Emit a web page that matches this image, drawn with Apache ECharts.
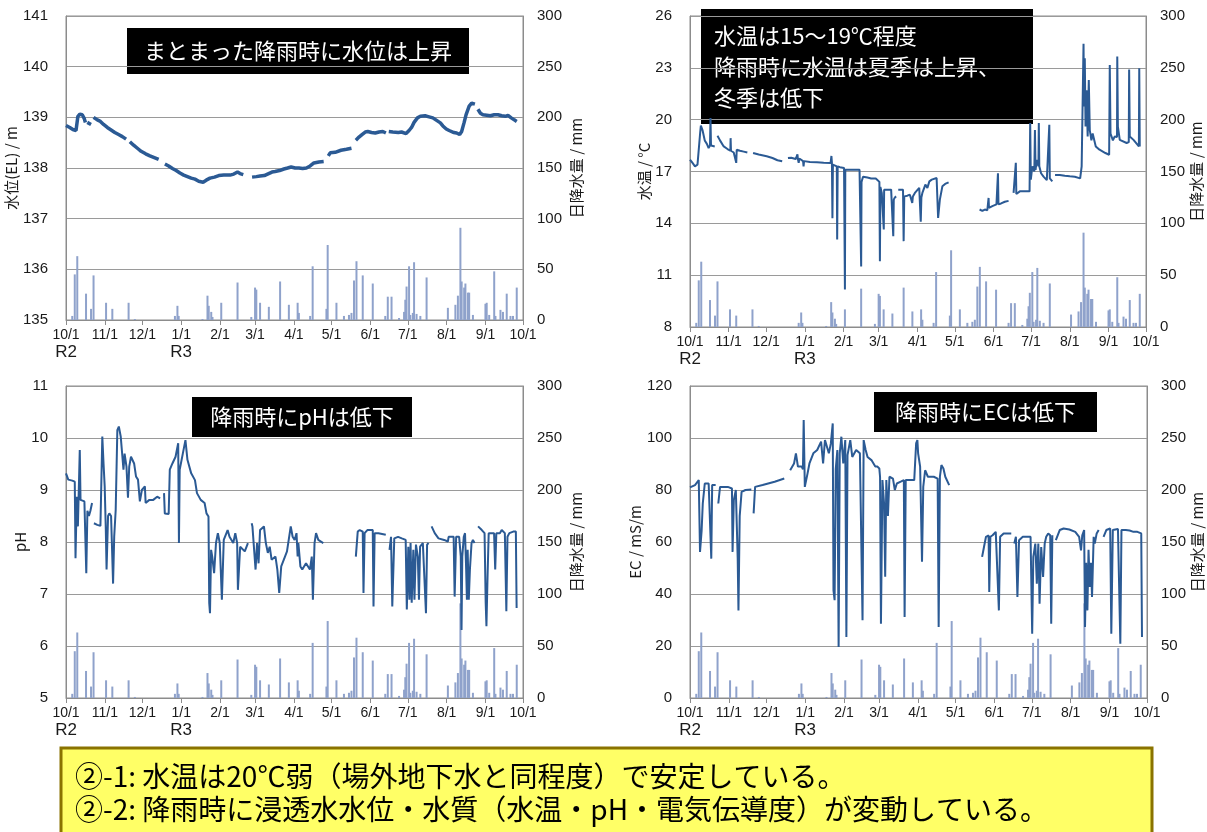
<!DOCTYPE html>
<html>
<head>
<meta charset="utf-8">
<script src="https://cdn.jsdelivr.net/npm/echarts@6/dist/echarts.min.js"></script>
<style>
html,body{margin:0;padding:0;background:#fff;}
#c{width:1207px;height:832px;}
</style>
</head>
<body>
<div id="c"></div>
<script>
// Day offsets are counted from 10/1 (R2). Month starts on the time axis:
const monthDays   = [0, 31, 61, 92, 123, 151, 182, 212, 243, 273, 304, 335, 365];
const monthLabels = ['10/1','11/1','12/1','1/1','2/1','3/1','4/1','5/1','6/1','7/1','8/1','9/1','10/1'];
const eraLabels   = {0: 'R2', 92: 'R3'};

// Daily rainfall [day, mm]
const rainfall = [
  [5,4],[7,45],[9,63],[16,26],[20,11],[22,44],[32,17],[37,11],[50,17],[55,1],
  [87,4],[89,14],[90,4],[109,1],[113,24],[114,14],[116,8],[117,3],[124,17],[137,37],
  [148,3],[151,32],[152,30],[155,17],[162,13],[171,38],[178,15],[185,17],[186,7],[195,4],
  [197,53],[208,11],[209,74],[216,17],[222,4],[226,5],[228,7],[230,39],[232,58],[237,44],
  [245,36],[255,4],[257,23],[260,23],[266,2],[270,8],[271,20],[272,33],[274,53],[275,5],
  [277,7],[278,57],[280,6],[283,4],[288,42],[305,12],[311,15],[313,24],[315,91],[316,38],
  [318,32],[319,36],[321,27],[322,27],[325,5],[335,16],[336,17],[338,5],[342,48],[343,4],
  [347,10],[349,8],[352,26],[355,4],[357,4],[360,32]
];

// Seepage water level (EL, m), one array per continuous record
const waterLevel = [
  [[0,138.84],[3,138.8],[5.5,138.76],[8,138.74],[9.5,139.02],[11,139.06],[13,139.05],[14.5,138.98],[15.5,138.9]],
  [[17,138.9],[20,138.86]],
  [[22,139.0],[25,138.95],[27.5,138.92],[30,138.86],[33,138.8],[36,138.75],[39,138.7],[42,138.66],[45,138.62],[48,138.57]],
  [[51,138.52],[54,138.45],[57.5,138.38],[60,138.33],[63.6,138.28],[67,138.24],[70,138.21],[74,138.17]],
  [[79,138.08],[82,138.04],[85,137.99],[88,137.95],[91,137.9],[94,137.86],[97,137.83],[100,137.8],[103,137.78],[106,137.74],[109.5,137.72],[112,137.76],[115,137.8],[118.6,137.82],[122,137.85],[126,137.86],[131,137.86],[134,137.88],[137,137.92],[139,137.89],[141.6,137.87]],
  [[148.6,137.82],[152,137.83],[155,137.84],[158.4,137.85],[161,137.88],[164.5,137.92],[167,137.93],[170.6,137.95],[174,137.98],[177,138.0],[179.8,138.02],[183,138.0],[186,138.0],[189,137.99],[192,138.0],[195,138.04],[198,138.1],[202,138.12],[205.8,138.13]],
  [[209.5,138.24],[211,138.3],[215,138.31],[219.6,138.35],[224,138.37],[228,138.39]],
  [[231.5,138.55],[234,138.61],[236.4,138.66],[239,138.71],[241,138.72],[244,138.7],[247,138.69],[250,138.71],[253,138.72],[255.5,138.69]],
  [[257.8,138.72],[261,138.71],[265.4,138.7],[268,138.71],[271.6,138.68],[274,138.74],[276,138.8],[278,138.9],[280.7,138.99],[283,139.02],[286.8,139.03],[290,139.01],[293,138.99],[296,138.94],[299,138.89],[301,138.83],[303.7,138.77],[306,138.74],[309.8,138.7],[312,138.69],[314.4,138.66],[316,138.72],[318,138.9],[319.5,139.05],[322,139.22],[324,139.28],[326.6,139.26]],
  [[329,139.16],[331,139.08],[333,139.05],[336,139.04],[339,139.03],[342,139.05],[345,139.05],[348,139.03],[351,139.02],[353,139.04],[355.6,138.99],[358,138.95],[360,138.92]]
];

// Water temperature (°C)
const waterTemp = [
  [[0,17.68],[2,17.5],[4,17.3],[6,17.4],[7,17.5],[8.2,19.3],[8.7,19.65],[10,19.4],[11.8,18.8],[13.5,18.6],[14.9,18.36],[16,18.5],[16.4,20.1],[16.8,18.5],[18,18.5],[19.8,18.45]],
  [[22,19.07],[24,18.8],[27,18.45],[30,18.3],[32.3,18.2],[32.5,18.93],[32.8,18.2],[35,18.1],[36.6,18.07],[37,17.5],[37.4,18.26],[40,18.2],[43,18.15],[45.9,18.1]],
  [[50.5,18.07],[55,17.98],[61.4,17.88],[66,17.78],[70,17.65],[73.8,17.59]],
  [[78.4,17.78],[81,17.8],[84.6,17.72],[85.6,17.72],[86,18.0],[86.4,17.7],[87,17.5],[87.5,17.75],[90.5,17.6],[90.9,17.3],[91.3,17.6],[96,17.55],[101.6,17.53],[107,17.5],[112.5,17.49],
   [113.2,17.9],[113.6,17.5],[114,14.3],[114.4,17.4],[116,17.3],[117.5,17.3],[117.8,13.06],[118.2,17.3],[120,17.25],[123.3,17.2],[123.8,17.2],[124,10.17],[124.3,17.1],[127,17.1],[131,17.1],[135.7,17.1],[136.8,17.1],[137,11.5],[137.3,16.4],[138.5,16.7],[142,16.65],[145,16.6],
   [148.7,16.6],[150,16.5],[151.6,16.4],[152,11.8],[152.4,16.1],[153.5,15.76],[154.8,15.8],[155.1,13.64],[155.4,15.95],[158,15.95],[161,15.95],[162.4,15.95],[162.7,13.25],[163.1,15.37],[164,15.5],[165,15.56]],
  [[166.7,15.95],[168,15.9],[170.5,15.95],[171,12.97],[171.5,15.56],[174,15.6],[176,15.66],[177.6,15.6],[177.9,15.18],[178.4,15.56],[180,15.76],[183.5,16.05],[183.8,16.05],[184.7,14.1],[185.2,15.5],[186,15.76],[188.4,16.24],[190,16.05],[191.6,16.43],[193.5,16.53],[197.4,16.62],[197.7,16.6],[198.6,14.31],[200,15.37],[202,16.14],[204.2,16.28],[207,16.37]],
  [[231.8,14.8],[234,14.72],[236,14.8],[238,14.76],[238.8,14.8],[239,15.47],[239.3,14.9],[242,15.0],[245.3,15.1],[245.7,15.1],[246.5,16.9],[246.9,15.1],[249,15.15],[252,15.25],[255,15.3]],
  [[259,15.76],[260.5,15.8],[260.8,17.5],[261.2,15.7],[264,15.85],[268,15.85],[271.8,15.85],[272.3,19.8],[272.8,16.53],[274,17.3],[275.6,17.0],[276.1,19.4],[276.6,17.1],[277.6,17.68],[278.9,17.3],[279.2,19.8],[279.6,17.3],[281,16.9],[283,16.7],[285.6,16.5],[287.2,16.5],[287.6,19.7],[288,16.6],[290,16.43]],
  [[292.2,16.8],[296,16.8],[300,16.75],[304,16.72],[308,16.7],[312.3,16.6],[313.5,17.3],[314.6,17.3],[315,24.4],[315.4,20.76],[316,23.55],[316.6,19.6],[317.4,21.7],[318.3,19.03],[319.2,22.3],[320,19.4],[321.3,18.8],[322.3,19.2],[324.8,18.45],[327.8,18.26],[332.5,18.07],[335.5,17.97],[336,23.17],[336.6,19.2],[338.5,18.8],[340,19.03],[341.8,19.0],[342,23.65],[342.5,19.6],[344,18.83],[349.5,18.65],[351.2,18.7],[351.5,22.9],[352,19.03],[355,18.83],[359.3,18.45],[359.6,22.98],[360,18.45]]
];

// pH
const phValues = [
  [[0,9.32],[1.8,9.2],[5,9.18],[7,9.16],[7.6,7.69],[8.2,8.4],[8.6,8.87],[9.5,8.3],[10.1,8.9],[11,9.77],[11.6,8.81],[13,8.8],[14.7,8.78],[16.2,7.4],[17.1,8.6],[18.3,8.5],[19.5,8.6],[20.8,8.75]],
  [[22.3,8.36],[25,8.33],[27.5,8.31],[29,10.03],[30,9.5],[30.9,9.07],[31.8,8.23],[32.4,7.47],[33.6,8.5],[34.6,8.55],[36,8.5],[37.6,7.2],[38.5,8.1],[39.7,8.62],[41,10.15],[42.2,10.22],[43.7,10.03],[44.6,9.77],[45.9,9.39],[46.8,9.7],[48.3,9.45],[49.5,8.85],[50.5,9.45],[51.9,9.64],[54.4,9.51],[55.9,9.26],[57.5,9.2],[59,8.78],[60.6,9.0],[63,9.07],[63.6,8.75],[66.6,8.81],[69.7,8.81],[72.8,8.87],[75.2,8.84]],
  [[78.3,8.94],[78.9,8.55],[82,8.54],[82.9,9.39],[85,9.51],[87.5,9.64],[89.6,9.9],[90.2,7.98],[90.8,9.39],[93.3,9.7],[95.4,9.96],[97,9.58],[100,9.32],[103,9.19],[104.6,8.94],[107.6,8.81],[110.7,8.75],[112.2,8.55],[113.8,8.49],
   [114.4,6.83],[115,6.63],[115.9,7.85],[116.8,7.72],[118.3,7.4],[119.8,7.98],[121.3,8.17],[122.8,7.98],[124.5,6.89],[126,8.04],[129.1,8.23],[130.6,8.1],[133.6,7.98],[135.2,8.17],[136.7,7.98],[137.3,7.08],[139.1,7.91],[142.8,7.82],[145.3,7.98]],
  [[148.3,8.36],[148.9,8.3],[151.4,7.47],[152.6,7.98],[153.8,7.59],[155,8.23],[158.1,8.3],[159.6,7.98],[161.2,7.79],[162.7,7.91],[164.2,7.66],[167.3,7.72],[168.8,7.47],[170.3,7.02],[171.9,7.53],[174.9,7.72],[176.5,7.82],[178,7.85],[179.5,8.3],[181,8.1],[182.6,8.04],[184.1,8.17],[185,7.72],[185.6,7.98],[187.2,7.53],[188.7,7.47],[191.7,7.59],[194.8,7.47],[196.3,7.72],[197.2,6.89],[198.5,7.98],[199.7,8.17],[201.5,8.04],[205.5,7.98]],
  [[231.5,7.72],[233,8.2],[234.6,8.23],[237,8.2],[237.6,7.02],[238.5,8.17],[240.7,8.23],[245,8.23],[245.6,6.76],[246.5,8.17],[249.5,8.17],[255.4,8.14]],
  [[258.4,7.85],[259.6,8.1],[260.6,6.76],[262.2,8.07],[265.2,8.1],[268.2,8.07],[271.3,8.04],[272.2,6.7],[273.4,7.91],[274.3,6.89],[275.2,7.98],[276.1,6.83],[277.4,7.85],[278.3,6.89],[279.5,7.95],[281,7.72],[281.9,6.89],[282.8,7.91],[285,7.98],[286.5,7.95],[287.5,6.63],[288.4,7.95],[289.6,7.98]],
  [[292,8.3],[294.5,8.17],[297.5,8.07],[302,8.04],[305,8.01],[305.6,8.1],[309.6,8.1],[310.4,6.95],[311.6,8.1],[314,8.1],[315.3,7.72],[315.9,6.31],[316.5,7.72],[317.7,8.1],[318.7,8.17],[319.6,7.47],[320.2,6.89],[320.8,7.85],[321.7,6.89],[322.6,7.47],[323.9,7.98],[325,8.04],[326.3,7.98]],
  [[329.1,8.3],[332.1,8.23],[334.3,8.17],[335.2,6.83],[335.8,6.38],[336.7,7.35],[337.6,8.17],[341.9,8.17],[342.8,7.47],[343.7,8.17],[346.5,8.17],[348,8.23],[350.5,8.17],[351.7,6.67],[352.6,8.1],[354.1,8.17],[357.2,8.2],[359.3,8.2],[359.9,6.73]]
];

// Electrical conductivity (mS/m)
const ecValues = [
  [[0,81],[4,81.9],[7,83.8],[8,56.2],[9.3,64.5],[10.2,74.8],[11.8,82.5],[14.9,82.5],[16.4,81.9],[17,53.6],[17.7,81.9],[20.5,81.9]],
  [[22.6,74.8],[24,81.2],[30.2,81.2],[33.5,80.6],[34,56.2],[35,76.1],[36.6,80],[38.1,53.6],[38.7,33.7],[39.7,70],[41.2,79.3],[44.3,80],[49,80.2]],
  [[50.8,71],[52,81.2],[58,81.9],[67.6,83.2],[75.3,84.4]],
  [[80,87.6],[83.1,90.2],[84.6,94.1],[86.2,89],[89.2,89],[90.2,88],[90.8,106.9],[91.7,81.2],[93.9,86.4],[95.4,90.2],[98.5,94.1],[101.6,95.4],[104.7,98.6],[106.3,90.2],[107.8,99.2],[110.9,94.1],[112.5,97.9],[114,105.6],[114.6,41.4],[115.5,37.6],[116.4,88],[117.7,95.4],[118.7,19.6],[119.6,94.1],[120.9,100.5],[122.4,90.2],[124,99.2],[124.9,23.5],[125.8,93.4],[128,99.2],[129.6,92.7],[132.7,95.4],[135.7,94.1],[137.8,29.9],[138.7,99.2],[140.3,95.4],[141.8,92.7],[144.9,91.5],[148,89],[149.6,89],[151.2,88.3],[151.8,85],[152.5,28.6],[153.7,83.8],[155,74.8],[155.9,46.6],[156.8,83.8],[158.1,70],[159.3,85.1],[162.1,84.4],[163.6,80],[165.2,82.5],[168.3,83.2],[170.8,83.8],[171.4,31.2],[172.3,83.8],[176,83.8],[179.1,83.8],[180.6,97.9],[181.6,99.2],[182.2,94.1],[183.8,89],[185.3,52.4],[186.3,81.2],[187.8,87.6],[190,85.1],[194.7,85.1],[197.8,84.4],[198.6,27.3],[199.6,85.1],[200.8,89.6],[202.4,88.3],[203.9,85.1],[207,81.9]],
  [[233.3,54.3],[234.8,58.1],[236.4,62],[238.5,62.5],[239,40.8],[239.9,62],[241.7,62.6],[244.2,63.9],[245.7,63.3],[246.7,33.7],[247.7,62],[250.5,63.3],[256.6,63.3]],
  [[259,59.4],[260.3,62],[261.5,38.9],[262.8,60.7],[265.8,62],[272,62],[273.3,24.7],[274.2,54.3],[275.8,59.4],[277,44],[278.2,59.4],[279.2,36.3],[280.5,58.1],[282,46.6],[283.3,59.4],[284.5,62],[286.1,63.3],[287.7,62.6],[288.5,28.6],[289.4,62.6]],
  [[292.2,60.7],[295.3,64.6],[298.4,65.2],[303,64.8],[307.7,63.9],[310.8,62],[312.3,56.8],[313.3,62.6],[314.8,64.6],[315.5,27.3],[316.4,52],[317.4,33.7],[318.3,57],[319.3,42.7],[320.2,52],[321.1,38.9],[322.4,62],[323.3,59.4],[324.8,63.3],[326.4,64.6]],
  [[330.3,62],[332.5,64.6],[335.6,65.2],[336.5,24.7],[337.7,64.6],[341.8,65],[342.7,44],[343.7,20.9],[344.6,64.6],[348,64.6],[351.1,64.4],[354.2,63.9],[357.3,63.9],[360.4,63.3],[361,23.5]]
];

const LINE_COLOR = '#2b5a94';
const BAR_COLOR = '#8fa2cb';
const TXT = '#1a1a1a';
const NUM_FONT = '"Liberation Sans", Arial, sans-serif';
const JP_FONT = '"Noto Sans CJK JP", "Noto Sans", sans-serif';

const panels = [
  {grid: {left: 66, top: 16, width: 457, height: 304}, data: waterLevel, min: 135, max: 141, interval: 1,
   name: '水位(EL) / m', nameGap: 41, rightGap: 46, lineWidth: 3.5},
  {grid: {left: 690, top: 16, width: 456, height: 311}, data: waterTemp, min: 8, max: 26, interval: 3,
   name: '水温 / °C', nameGap: 37, rightGap: 39, lineWidth: 2},
  {grid: {left: 66, top: 386, width: 457, height: 312}, data: phValues, min: 5, max: 11, interval: 1,
   name: 'pH', nameGap: 36, rightGap: 46, lineWidth: 2},
  {grid: {left: 690, top: 386, width: 457, height: 312}, data: ecValues, min: 0, max: 120, interval: 20,
   name: 'EC / mS/m', nameGap: 37, rightGap: 39, lineWidth: 2}
];

const grid = [], xAxis = [], yAxis = [], series = [];
panels.forEach((p, i) => {
  grid.push(Object.assign({show: true, borderColor: '#8c8c8c', borderWidth: 1, backgroundColor: '#fff'}, p.grid));
  xAxis.push({
    type: 'value', gridIndex: i, min: 0, max: 365,
    axisLine: {show: true, lineStyle: {color: '#8c8c8c'}},
    axisTick: {show: true, customValues: monthDays, length: 5, lineStyle: {color: '#8c8c8c'}},
    splitLine: {show: false},
    axisLabel: {
      customValues: monthDays, margin: 7, color: TXT,
      formatter: v => {
        const k = monthDays.indexOf(Math.round(v));
        if (k < 0) return '';
        const era = eraLabels[monthDays[k]];
        return '{m|' + monthLabels[k] + '}' + (era ? '\n{e|' + era + '}' : '');
      },
      rich: {
        m: {fontSize: 14, fontFamily: NUM_FONT, color: TXT, lineHeight: 16},
        e: {fontSize: 17, fontFamily: NUM_FONT, color: TXT, lineHeight: 18}
      }
    }
  });
  yAxis.push({
    type: 'value', gridIndex: i, min: p.min, max: p.max, interval: p.interval, position: 'left',
    name: p.name, nameLocation: 'middle', nameRotate: 90, nameGap: p.nameGap,
    nameTextStyle: {fontSize: 15, fontFamily: JP_FONT, color: TXT},
    axisLine: {show: true, lineStyle: {color: '#8c8c8c'}},
    axisTick: {show: false},
    axisLabel: {fontSize: 15, fontFamily: NUM_FONT, color: TXT, margin: 18},
    splitLine: {show: true, lineStyle: {color: '#9a9a9a', width: 1}}
  });
  yAxis.push({
    type: 'value', gridIndex: i, min: 0, max: 300, interval: 50, position: 'right',
    name: '日降水量 / mm', nameLocation: 'middle', nameRotate: 90, nameGap: p.rightGap,
    nameTextStyle: {fontSize: 15, fontFamily: JP_FONT, color: TXT},
    axisLine: {show: true, lineStyle: {color: '#8c8c8c'}},
    axisTick: {show: false},
    axisLabel: {fontSize: 15, fontFamily: NUM_FONT, color: TXT, margin: 14},
    splitLine: {show: false}
  });
  series.push({
    type: 'bar', xAxisIndex: i, yAxisIndex: 2 * i + 1, data: rainfall, barWidth: 2,
    itemStyle: {color: BAR_COLOR}, z: 1, silent: true
  });
  p.data.forEach(seg => {
    series.push({
      type: 'line', xAxisIndex: i, yAxisIndex: 2 * i, data: seg, showSymbol: false,
      lineStyle: {color: LINE_COLOR, width: p.lineWidth}, z: 3, silent: true
    });
  });
});

// Black caption boxes inside the panels and the yellow summary box
function caption(x, y, w, h, lines, lineH, align) {
  const els = [{type: 'rect', shape: {x, y, width: w, height: h}, style: {fill: '#000'}}];
  lines.forEach((t, k) => {
    els.push({
      type: 'text',
      x: align === 'left' ? x + 13 : x + w / 2,
      y: y + (h - lines.length * lineH) / 2 + lineH * (k + 0.5),
      style: {text: t, fill: '#fff', font: '22px ' + JP_FONT, align: align || 'center', verticalAlign: 'middle'}
    });
  });
  return els;
}

const graphic = [].concat(
  caption(127, 28, 342, 46, ['まとまった降雨時に水位は上昇'], 30),
  caption(701, 9, 332, 115, ['水温は15～19℃程度', '降雨時に水温は夏季は上昇、', '冬季は低下'], 31, 'left'),
  caption(192, 397, 220, 40, ['降雨時にpHは低下'], 30),
  caption(874, 392, 223, 40, ['降雨時にECは低下'], 30),
  [
    {type: 'rect', shape: {x: 61, y: 748, width: 1091, height: 100},
     style: {fill: '#ffff66', stroke: '#8a7300', lineWidth: 3}},
    {type: 'text', x: 75, y: 776,
     style: {text: '②-1: 水温は20℃弱（場外地下水と同程度）で安定している。', fill: '#000', font: '28px ' + JP_FONT, verticalAlign: 'middle'}},
    {type: 'text', x: 75, y: 809,
     style: {text: '②-2: 降雨時に浸透水水位・水質（水温・pH・電気伝導度）が変動している。', fill: '#000', font: '28px ' + JP_FONT, verticalAlign: 'middle'}}
  ]
);

const chart = echarts.init(document.getElementById('c'), null, {renderer: 'canvas'});
chart.setOption({
  animation: false,
  backgroundColor: '#fff',
  grid, xAxis, yAxis, series, graphic
});
</script>
</body>
</html>
